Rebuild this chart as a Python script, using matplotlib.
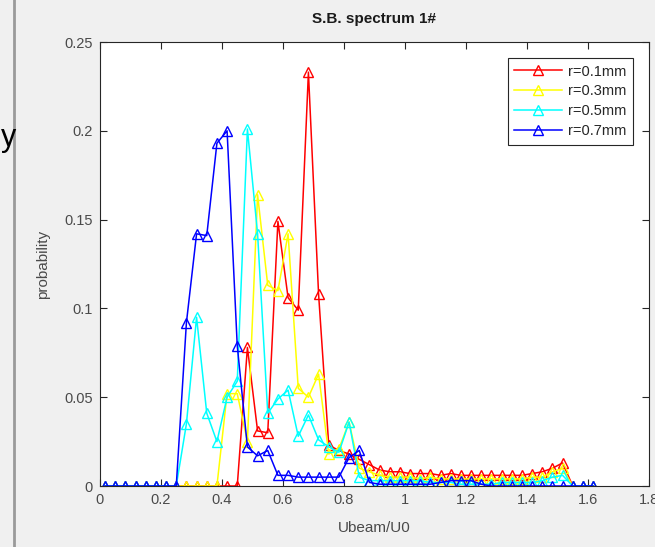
import matplotlib
matplotlib.use("Agg")
import matplotlib.pyplot as plt
import numpy as np

plt.rcParams['font.family'] = ['Liberation Sans', 'DejaVu Sans']

# histogram bins of width 1/30, plotted at the bin centres
n_bins = 49
x = (np.arange(n_bins) + 0.5) / 30

r01 = [0] * 14 + [0.078, 0.031, 0.030, 0.149, 0.106, 0.099, 0.233, 0.108, 0.023,
                  0.020, 0.018, 0.015, 0.012, 0.009, 0.008, 0.008, 0.007, 0.007,
                  0.007, 0.006, 0.007, 0.006, 0.006, 0.006, 0.006, 0.006, 0.006,
                  0.006, 0.007, 0.008, 0.010, 0.013, 0, 0, 0]
r03 = [0] * 12 + [0.052, 0.052, 0.025, 0.164, 0.113, 0.110, 0.142, 0.055, 0.050,
                  0.063, 0.018, 0.021, 0.036, 0.010, 0.008,
                  0.006, 0.005, 0.005, 0.005, 0.004, 0.005, 0.004, 0.004, 0.004,
                  0.004, 0.004, 0.004, 0.004, 0.004, 0.004, 0.005, 0.005,
                  0.008, 0.010, 0, 0, 0]
r05 = [0] * 8 + [0.035, 0.095, 0.041, 0.025, 0.050, 0.059, 0.201, 0.142, 0.041,
                 0.049, 0.054, 0.028, 0.040, 0.026, 0.022, 0.019, 0.036, 0.005, 0.003,
                 0.003, 0.003, 0.003, 0.003, 0.003, 0.002, 0.002, 0.002, 0.001,
                 0.001, 0.001, 0.001, 0.002, 0.002, 0.002, 0.002, 0.003,
                 0.005, 0.006, 0, 0, 0]
r07 = [0] * 8 + [0.092, 0.142, 0.141, 0.193, 0.200, 0.079, 0.022, 0.017, 0.020,
                 0.006, 0.006, 0.005, 0.005, 0.005, 0.005, 0.005, 0.016, 0.020, 0.002,
                 0.001, 0.001, 0.001, 0.001, 0.001, 0.001, 0.002, 0.003, 0.003,
                 0.003, 0.001] + [0] * 11

series = [r01, r03, r05, r07]
labels = ['r=0.1mm', 'r=0.3mm', 'r=0.5mm', 'r=0.7mm']
colors = ['#ff0000', '#ffff00', '#00ffff', '#0000ff']

fig = plt.figure(figsize=(6.55, 5.47), dpi=100, facecolor='#f0f0f0')

# leftover bits of the screenshot on the left edge
fig.add_artist(plt.Line2D([14 / 655, 14 / 655], [0, 1], color='#9a9a9a', lw=2))
fig.text(1 / 655, 1 - 138 / 547, 'y', fontsize=22, color='black', va='center', ha='left')

ax = fig.add_axes([100 / 655, 1 - 486 / 547, 549 / 655, 444 / 547])
ax.set_facecolor('white')

for y, lab, c in zip(series, labels, colors):
    ax.plot(x, y, color=c, lw=1.1, marker='^', markersize=7, markerfacecolor='none',
            markeredgecolor=c, markeredgewidth=1.0, label=lab)

ax.set_xlim(0, 1.8)
ax.set_ylim(0, 0.25)
ax.set_xticks(np.arange(0, 1.81, 0.2))
ax.set_xticklabels(['0', '0.2', '0.4', '0.6', '0.8', '1', '1.2', '1.4', '1.6', '1.8'])
ax.set_yticks([0, 0.05, 0.1, 0.15, 0.2, 0.25])
ax.set_yticklabels(['0', '0.05', '0.1', '0.15', '0.2', '0.25'])
ax.tick_params(direction='in', top=True, right=True, length=5, width=0.8,
               labelsize=10.5, colors='#262626', labelcolor='#4a4a4a', pad=5)
for s in ax.spines.values():
    s.set_color('#262626')
    s.set_linewidth(0.8)

ax.set_title('S.B. spectrum 1#', fontsize=11, fontweight='bold', color='#1a1a1a', pad=14)
ax.set_xlabel('Ubeam/U0', fontsize=11, color='#4a4a4a', labelpad=10)
ax.set_ylabel('probability', fontsize=11, color='#4a4a4a', labelpad=10)

leg = ax.legend(loc='upper right', bbox_to_anchor=(1 - 16 / 549, 1 - 16 / 444),
                fontsize=10.5, frameon=True, fancybox=False, framealpha=1,
                edgecolor='#262626', handlelength=3.3, handletextpad=0.4,
                borderpad=0.45, labelspacing=0.4, borderaxespad=0)
leg.get_frame().set_linewidth(0.8)
for t in leg.get_texts():
    t.set_color('#262626')

fig.savefig('out.png', dpi=100, facecolor=fig.get_facecolor())
